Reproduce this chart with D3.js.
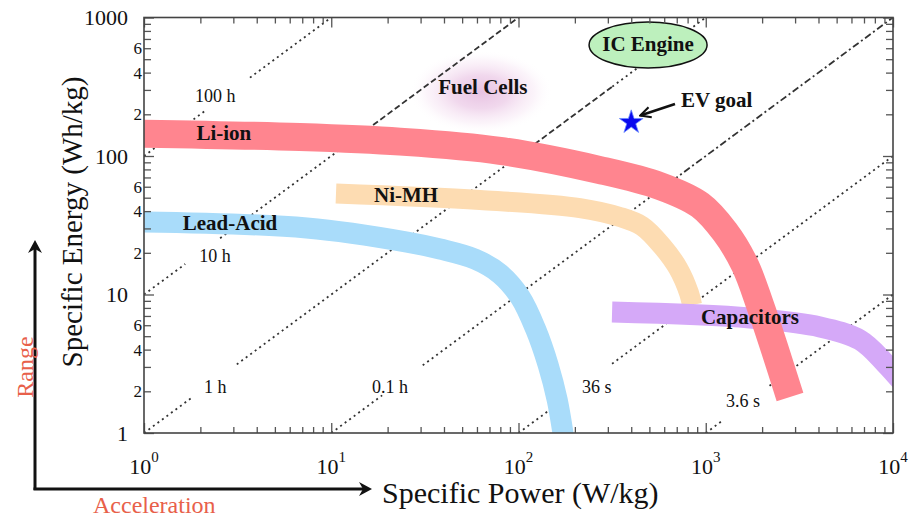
<!DOCTYPE html>
<html><head><meta charset="utf-8">
<script src="https://cdn.jsdelivr.net/npm/d3@7"></script>
<style>
body{margin:0;background:#fff}
svg{display:block}
text{font-family:"Liberation Serif","Times New Roman",serif;fill:#111}
</style>
</head><body>
<svg id="chart" width="910" height="518"></svg>
<script>
// ---------------- data ----------------
const powerDomain = [1, 1e4];          // Specific Power (W/kg)
const energyDomain = [1, 1000];        // Specific Energy (Wh/kg)
const xTickExponents = ["0", "1", "2", "3", "4"];
const yMajorTicks = [1, 10, 100, 1000];
const yMinorLabelled = [2, 4, 6, 20, 40, 60, 200, 400, 600];

// band centre-lines [power, energy]
const liIon      = [[1,145],[6.8,137],[23.3,127],[79.6,109],[272,79.2],[570,60.7],[932,44.3],[1267,28.3],[1620,16.3],[1949,8.4],[2343,3.98],[2818,1.82]];
const niMH       = [[10.6,53.6],[62.3,48.1],[213,42.1],[348,36.3],[457,31.2],[584,22.4],[711,15.5],[814,10.25],[845,8.4]];
const leadAcid   = [[1,33.4],[7.4,30.2],[25.4,23.9],[38.1,21.3],[58.6,18.0],[79.6,14.1],[102,9.6],[124,5.54],[144,3.1],[161,1.73],[175,0.89]];
const capacitors = [[316,7.47],[1723,6.77],[4075,5.83],[6665,4.69],[9065,3.2],[11600,2.2]];

const bandNames  = ["Li-ion", "Ni-MH", "Lead-Acid", "Capacitors"];
const bandLabelAt = [[2.67,130.5],[25.1,46.5],[2.88,29.2],[1722,6.12]];

// constant discharge-time lines: energy = hours * power
const timeLineHours  = [100, 10, 1, 0.1, 0.01, 0.001];
const timeLineLabels = ["100 h", "10 h", "1 h", "0.1 h", "36 s", "3.6 s"];
const timeLabelAt    = [[1.87,245],[1.97,17.2],[2.09,1.945],[16.5,1.945],[218,1.945],[1283,1.54]];
// visible pieces of each line (power range, style)
const timeLineSegments = [
  [[1,2.12,"dot"],[3.68,10,"dot"]],
  [[1,1.66,"dot"],[2.55,12,"dot"],[14,100,"dash"]],
  [[1,1.80,"dot"],[3.13,122,"dot"],[122,317,"dash"],[317,1000,"dot"]],
  [[10,18.7,"dot"],[30.8,570,"dot"],[570,1e4,"dashdot"]],
  [[100,144,"dot"],[316,1e4,"dot"]],
  [[1000,1220,"dot"],[2190,1e4,"dot"]]
];

const fuelCells = {name:"Fuel Cells", power:63, energy:290};
const icEngine  = {name:"IC Engine", power:492, energy:633};
const evGoal    = {name:"EV goal", power:400, energy:175};
const evArrow   = [[685,237],[447,196]];
const evLabelAt = [738,226];

// ---------------- drawing ----------------
const svg = d3.select("#chart");
const L = 144, R = 893, T = 17.5, B = 433;
const x = d3.scaleLog().domain(powerDomain).range([L, R]);
const y = d3.scaleLog().domain(energyDomain).range([B, T]);

const defs = svg.append("defs");
defs.append("clipPath").attr("id","plotclip").append("rect")
  .attr("x",L).attr("y",T).attr("width",R-L).attr("height",B-T);
const grad = defs.append("radialGradient").attr("id","glow");
grad.append("stop").attr("offset","0%").attr("stop-color","#e6bfe0").attr("stop-opacity",0.95);
grad.append("stop").attr("offset","40%").attr("stop-color","#eccbe7").attr("stop-opacity",0.75);
grad.append("stop").attr("offset","75%").attr("stop-color","#f6e4f3").attr("stop-opacity",0.4);
grad.append("stop").attr("offset","100%").attr("stop-color","#ffffff").attr("stop-opacity",0);
const mk = defs.append("marker").attr("id","arrowV").attr("viewBox","0 0 10 10")
  .attr("refX",9).attr("refY",5).attr("markerWidth",5).attr("markerHeight",5)
  .attr("orient","auto-start-reverse").attr("markerUnits","strokeWidth");
mk.append("path").attr("d","M1,1 L9,5 L1,9").attr("fill","none").attr("stroke","#111").attr("stroke-width",1.6);

const plot = svg.append("g").attr("clip-path","url(#plotclip)");

// fuel cell glow
plot.append("ellipse")
  .attr("cx", x(fuelCells.power)).attr("cy", y(fuelCells.energy))
  .attr("rx", 72).attr("ry", 42).attr("fill","url(#glow)");

// time lines
const dashes = {dot:"2,3.6", dash:"6,3", dashdot:"7,3,2,3"};
timeLineHours.forEach((h,i) => {
  timeLineSegments[i].forEach(s => {
    plot.append("line")
      .attr("x1", x(s[0])).attr("y1", y(h*s[0]))
      .attr("x2", x(s[1])).attr("y2", y(h*s[1]))
      .attr("stroke","#333").attr("stroke-width",1.8)
      .attr("stroke-dasharray", dashes[s[2]]);
  });
});

// bands
const line = d3.line().x(d => x(d[0])).y(d => y(d[1])).curve(d3.curveCatmullRom.alpha(0.5));
const bands = [
  {data: liIon,      color:"#ff858f", w:28},
  {data: niMH,       color:"#fddcb2", w:20},
  {data: leadAcid,   color:"#a9dcfa", w:21},
  {data: capacitors, color:"#d5a9f8", w:21}
];
// draw order like the reference: lead-acid, Ni-MH, capacitors, Li-ion
[2,1,3,0].forEach(i => {
  plot.append("path").attr("d", line(bands[i].data))
    .attr("fill","none").attr("stroke", bands[i].color)
    .attr("stroke-width", bands[i].w).attr("stroke-linecap","butt").attr("stroke-linejoin","round");
});

// band labels
bandNames.forEach((n,i) => {
  svg.append("text").attr("x", x(bandLabelAt[i][0])).attr("y", y(bandLabelAt[i][1]))
    .attr("text-anchor","middle").attr("font-weight","bold").attr("font-size",21).text(n);
});

// time labels
timeLineLabels.forEach((t,i) => {
  svg.append("text").attr("x", x(timeLabelAt[i][0])).attr("y", y(timeLabelAt[i][1]))
    .attr("font-size",18).attr("fill","#222").text(t);
});

// fuel cells label
svg.append("text").attr("x", x(fuelCells.power)+2).attr("y", y(fuelCells.energy)+2)
  .attr("text-anchor","middle").attr("font-weight","bold").attr("font-size",21).text(fuelCells.name);

// IC engine
svg.append("ellipse").attr("cx", x(icEngine.power)).attr("cy", y(icEngine.energy))
  .attr("rx",59).attr("ry",23).attr("fill","#bdf0bd").attr("stroke","#111").attr("stroke-width",1.5);
svg.append("text").attr("x", x(icEngine.power)).attr("y", y(icEngine.energy)+6)
  .attr("text-anchor","middle").attr("font-weight","bold").attr("font-size",21).text(icEngine.name);

// EV goal
svg.append("path").attr("d", d3.symbol(d3.symbolStar, 175)())
  .attr("transform",`translate(${x(evGoal.power)},${y(evGoal.energy)})`)
  .attr("fill","#0a0aee").attr("stroke","#6a8cff").attr("stroke-width",0.8);
svg.append("line")
  .attr("x1", x(evArrow[0][0])).attr("y1", y(evArrow[0][1]))
  .attr("x2", x(evArrow[1][0])).attr("y2", y(evArrow[1][1]))
  .attr("stroke","#111").attr("stroke-width",2.6).attr("marker-end","url(#arrowV)");
svg.append("text").attr("x", x(evLabelAt[0])).attr("y", y(evLabelAt[1]))
  .attr("font-weight","bold").attr("font-size",21).text(evGoal.name);

// ---------- axes / frame ----------
const minorVals = [], majorVals = [];
for (let d = 0; d <= 4; d++) {
  for (let m = 1; m <= 9; m++) {
    const v = m * Math.pow(10, d);
    if (m === 1) majorVals.push(v); else minorVals.push(v);
  }
}
const xMinor = minorVals.filter(v => v < 1e4), yMinor = minorVals.filter(v => v < 1000);
const xMajor = majorVals.filter(v => v <= 1e4);
const tickStyle = g => { g.select(".domain").remove(); g.selectAll("line").attr("stroke","#555").attr("stroke-width",1.3); g.selectAll("text").remove(); };

svg.append("g").attr("transform",`translate(0,${B})`).call(d3.axisBottom(x).tickValues(xMinor).tickSize(-6)).call(tickStyle);
svg.append("g").attr("transform",`translate(0,${B})`).call(d3.axisBottom(x).tickValues(xMajor).tickSize(-10)).call(tickStyle);
svg.append("g").attr("transform",`translate(0,${T})`).call(d3.axisTop(x).tickValues(xMinor).tickSize(-6)).call(tickStyle);
svg.append("g").attr("transform",`translate(0,${T})`).call(d3.axisTop(x).tickValues(xMajor).tickSize(-10)).call(tickStyle);
svg.append("g").attr("transform",`translate(${L},0)`).call(d3.axisLeft(y).tickValues(yMinor).tickSize(-7)).call(tickStyle);
svg.append("g").attr("transform",`translate(${L},0)`).call(d3.axisLeft(y).tickValues(yMajorTicks).tickSize(-10)).call(tickStyle);
svg.append("g").attr("transform",`translate(${R},0)`).call(d3.axisRight(y).tickValues(yMinor).tickSize(-7)).call(tickStyle);
svg.append("g").attr("transform",`translate(${R},0)`).call(d3.axisRight(y).tickValues(yMajorTicks).tickSize(-10)).call(tickStyle);

svg.append("rect").attr("x",L).attr("y",T).attr("width",R-L).attr("height",B-T)
  .attr("fill","none").attr("stroke","#444").attr("stroke-width",1.6);

// y tick labels
yMajorTicks.forEach(v => {
  svg.append("text").attr("x", L-16).attr("y", y(v)).attr("dy","0.35em")
    .attr("text-anchor","end").attr("font-size",22).attr("fill","#222").text(String(v));
});
yMinorLabelled.forEach(v => {
  svg.append("text").attr("x", L-2).attr("y", y(v)).attr("dy","0.35em")
    .attr("text-anchor","end").attr("font-size",17).attr("fill","#222")
    .text(String(v).charAt(0));
});
// x tick labels
xMajor.forEach((v,i) => {
  const t = svg.append("text").attr("x", x(v)).attr("y", B+41)
    .attr("text-anchor","middle").attr("font-size",22).attr("fill","#222");
  t.append("tspan").text("10");
  t.append("tspan").attr("dy",-12).attr("font-size",15).text(xTickExponents[i]);
});

// axis titles
svg.append("text").attr("x", 382).attr("y", 503).attr("font-size",30).text("Specific Power (W/kg)");
svg.append("text").attr("transform","translate(82,222) rotate(-90)")
  .attr("text-anchor","middle").attr("font-size",29).text("Specific Energy (Wh/kg)");

// Range / Acceleration arrows
const arrowHead = "M0,0 L-13,-7 L-9,0 L-13,7 Z";
svg.append("line").attr("x1",35).attr("y1",490).attr("x2",35).attr("y2",245)
  .attr("stroke","#111").attr("stroke-width",3);
svg.append("path").attr("d",arrowHead).attr("transform","translate(35,240) rotate(-90)").attr("fill","#111");
svg.append("line").attr("x1",33.5).attr("y1",489).attr("x2",366).attr("y2",489)
  .attr("stroke","#111").attr("stroke-width",3);
svg.append("path").attr("d",arrowHead).attr("transform","translate(372,489)").attr("fill","#111");
svg.append("text").attr("transform","translate(33,367) rotate(-90)")
  .attr("text-anchor","middle").attr("font-size",24).style("fill","#e8604a").text("Range");
svg.append("text").attr("x",93).attr("y",513).attr("font-size",24).style("fill","#e8604a").text("Acceleration");
</script>
</body></html>
